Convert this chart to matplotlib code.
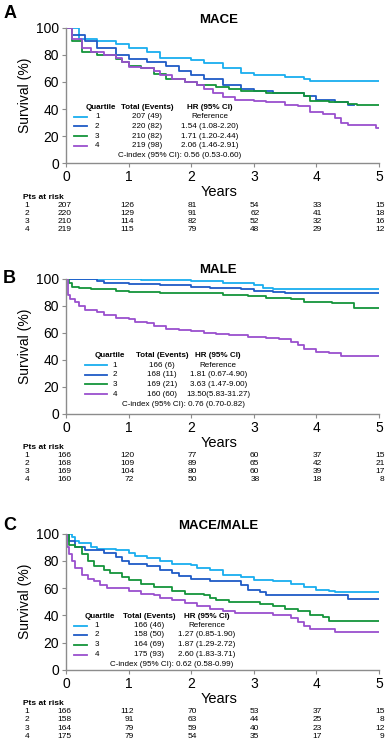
import matplotlib.pyplot as plt

plt.rcParams['font.family'] = ['Liberation Sans', 'DejaVu Sans']

colors = ['#19AEEF', '#1F5BC6', '#14943A', '#9A4FCE']
year_ticks = [0, 1, 2, 3, 4, 5]

# ---- panel A: MACE ----
mace_t1 = [0, 0.2, 0.5, 0.8, 1.0, 1.3, 1.5, 2.0, 2.2, 2.5, 2.8, 3.0, 3.5, 3.8, 3.9, 5.0]
mace_s1 = [100, 92, 90, 88, 85, 82, 78, 76, 74, 70, 67, 65, 64, 62, 60.5, 60.5]
mace_t2 = [0, 0.1, 0.3, 0.5, 0.8, 1.0, 1.3, 1.6, 1.8, 2.0, 2.2, 2.5, 2.8, 3.0, 3.3, 3.8, 4.0, 4.3, 4.5, 4.6]
mace_s2 = [100, 95, 90, 85, 80, 77, 75, 72, 68, 65, 62, 58, 55, 53, 52, 50, 47, 45, 43, 43]
mace_t3 = [0, 0.1, 0.25, 0.5, 0.8, 0.9, 1.0, 1.2, 1.4, 1.6, 1.9, 2.1, 2.4, 2.6, 2.8, 3.2, 3.8, 3.9, 4.2, 4.5, 4.65, 5.0]
mace_s3 = [100, 90, 82, 80, 77, 75, 72, 70, 66, 62, 60, 58, 56, 55, 53, 52, 50, 46, 45, 44, 43, 43]
mace_t4 = [0, 0.1, 0.25, 0.4, 0.6, 0.8, 0.9, 1.0, 1.2, 1.4, 1.5, 1.7, 1.9, 2.1, 2.2, 2.35, 2.5, 2.7,
           3.0, 3.2, 3.5, 3.7, 3.9, 4.1, 4.3, 4.4, 4.5, 4.95, 5.0]
mace_s4 = [100, 92, 85, 82, 80, 78, 75, 71, 70, 68, 65, 62, 60, 58, 55, 52, 49, 47,
           46, 45, 43, 42, 38, 36, 33, 30, 28, 26, 26]
mace_total = ['207 (49)', '220 (82)', '210 (82)', '219 (98)']
mace_hr = ['Reference', '1.54 (1.08-2.20)', '1.71 (1.20-2.44)', '2.06 (1.46-2.91)']
mace_cindex = 'C-index (95% CI): 0.56 (0.53-0.60)'
mace_risk = [[207, 126, 81, 54, 33, 15],
             [220, 129, 91, 62, 41, 18],
             [210, 114, 82, 52, 32, 16],
             [219, 115, 79, 48, 29, 12]]

# ---- panel B: MALE ----
male_t1 = [0, 1.2, 2.0, 2.5, 3.0, 3.15, 3.3, 5.0]
male_s1 = [100, 99, 98, 97, 95, 93, 92, 92]
male_t2 = [0, 0.5, 0.6, 1.0, 1.5, 2.0, 2.3, 2.8, 3.0, 3.3, 3.5, 5.0]
male_s2 = [100, 98, 97, 96, 95, 94, 93, 92, 91, 90, 89, 89]
male_t3 = [0, 0.05, 0.1, 0.2, 0.4, 0.8, 1.0, 1.5, 2.5, 2.9, 3.2, 3.6, 3.8, 4.25, 4.6, 5.0]
male_s3 = [100, 97, 94, 93, 92, 91, 90, 89, 88, 87, 86, 85, 83, 82, 78, 78]
male_t4 = [0, 0.03, 0.06, 0.15, 0.2, 0.3, 0.5, 0.6, 0.8, 1.0, 1.1, 1.3, 1.4, 1.6, 1.8, 2.0,
           2.2, 2.4, 2.6, 2.9, 3.2, 3.4, 3.6, 3.7, 3.8, 4.0, 4.2, 4.4, 5.0]
male_s4 = [100, 88, 85, 83, 80, 77, 75, 73, 71, 70, 68, 67, 65, 63, 62, 61,
           60, 59, 58, 57, 56, 55, 53, 51, 48, 46, 45, 43, 43]
male_total = ['166 (6)', '168 (11)', '169 (21)', '160 (60)']
male_hr = ['Reference', '1.81 (0.67-4.90)', '3.63 (1.47-9.00)', '13.50(5.83-31.27)']
male_cindex = 'C-index (95% CI): 0.76 (0.70-0.82)'
male_risk = [[166, 120, 77, 60, 37, 15],
             [168, 109, 89, 65, 42, 21],
             [169, 104, 80, 60, 39, 17],
             [160, 72, 50, 38, 18, 8]]

# ---- panel C: MACE/MALE ----
mm_t1 = [0, 0.1, 0.15, 0.2, 0.4, 0.5, 0.8, 1.0, 1.1, 1.3, 1.5, 1.7, 2.0, 2.1, 2.3, 2.5, 2.8,
         3.0, 3.3, 3.6, 3.8, 4.0, 4.2, 4.3, 5.0]
mm_s1 = [100, 98, 95, 93, 90, 89, 88, 86, 84, 82, 80, 78, 77, 75, 73, 70, 68,
         66, 65, 63, 61, 59, 58, 57, 57]
mm_t2 = [0, 0.05, 0.15, 0.3, 0.6, 0.8, 0.9, 1.0, 1.3, 1.5, 1.7, 1.8, 2.0, 2.3, 2.8, 2.9,
         3.1, 3.2, 4.5, 5.0]
mm_s2 = [100, 95, 90, 88, 86, 83, 80, 78, 76, 73, 71, 69, 67, 65, 62, 59,
         57, 55, 52, 52]
mm_t3 = [0, 0.05, 0.15, 0.25, 0.35, 0.45, 0.6, 0.7, 0.9, 1.0, 1.2, 1.4, 1.7, 1.9, 2.2, 2.3,
         2.4, 2.6, 3.1, 3.3, 3.5, 3.7, 3.9, 4.1, 4.2, 5.0]
mm_s3 = [100, 92, 90, 85, 80, 76, 73, 71, 68, 66, 63, 61, 58, 56, 55, 53,
         51, 50, 48, 47, 45, 43, 40, 39, 36, 36]
mm_t4 = [0, 0.02, 0.05, 0.1, 0.15, 0.25, 0.35, 0.45, 0.55, 0.65, 1.0, 1.2, 1.4, 1.5, 1.7,
         1.9, 2.1, 2.3, 2.5, 2.7, 3.3, 3.6, 3.7, 3.8, 3.9, 4.3, 5.0]
mm_s4 = [100, 90, 85, 80, 75, 70, 67, 65, 62, 60, 58, 56, 55, 53, 51,
         49, 47, 45, 43, 42, 40, 38, 35, 32, 30, 28, 28]
mm_total = ['166 (46)', '158 (50)', '164 (69)', '175 (93)']
mm_hr = ['Reference', '1.27 (0.85-1.90)', '1.87 (1.29-2.72)', '2.60 (1.83-3.71)']
mm_cindex = 'C-index (95% CI): 0.62 (0.58-0.99)'
mm_risk = [[166, 112, 70, 53, 37, 15],
           [158, 91, 63, 44, 25, 8],
           [164, 79, 59, 40, 23, 12],
           [175, 79, 54, 35, 17, 9]]

panels = [
    dict(letter='A', title='MACE', rect=[0.171, 0.784, 0.811, 0.179], lety=1.11,
         curves=[(mace_t1, mace_s1), (mace_t2, mace_s2), (mace_t3, mace_s3), (mace_t4, mace_s4)],
         total=mace_total, hr=mace_hr, cindex=mace_cindex, risk=mace_risk,
         # legend layout: line x0, x1, num x, total x, hr x, cindex x, header y, row ys, cindex y
         leg=(0.12, 0.34, 0.5, 1.29, 2.3, 1.82, 41.3, [34.4, 27.2, 20.0, 12.8], 5.7), qx=0.55),
    dict(letter='B', title='MALE', rect=[0.171, 0.452, 0.811, 0.179], lety=1.0,
         curves=[(male_t1, male_s1), (male_t2, male_s2), (male_t3, male_s3), (male_t4, male_s4)],
         total=male_total, hr=male_hr, cindex=male_cindex, risk=male_risk,
         leg=(0.30, 0.65, 0.78, 1.53, 2.43, 1.87, 43.2, [36.0, 28.9, 21.7, 14.3], 6.9), qx=0.70),
    dict(letter='C', title='MACE/MALE', rect=[0.171, 0.113, 0.811, 0.180], lety=1.06,
         curves=[(mm_t1, mm_s1), (mm_t2, mm_s2), (mm_t3, mm_s3), (mm_t4, mm_s4)],
         total=mm_total, hr=mm_hr, cindex=mm_cindex, risk=mm_risk,
         leg=(0.13, 0.33, 0.49, 1.33, 2.25, 1.69, 39.3, [32.4, 25.6, 18.2, 11.1], 3.9), qx=0.54),
]

fig = plt.figure(figsize=(3.86, 7.55), dpi=100)
spine_col = '#8c8c8c'
leg_fs = 5.8
risk_fs = 6.0

for p in panels:
    ax = fig.add_axes(p['rect'])
    for (t, s), c in zip(p['curves'], colors):
        ax.step(t, s, where='post', color=c, lw=1.3)

    ax.set_xlim(0, 5)
    ax.set_ylim(0, 100)
    ax.set_xticks(year_ticks)
    ax.set_yticks([0, 20, 40, 60, 80, 100])
    ax.tick_params(labelsize=10, color=spine_col, length=3, width=0.8, pad=2)
    for side in ['top', 'right']:
        ax.spines[side].set_visible(False)
    for side in ['left', 'bottom']:
        ax.spines[side].set_color(spine_col)
        ax.spines[side].set_linewidth(1.0)
    ax.set_ylabel('Survival (%)', fontsize=10, labelpad=3)
    ax.text(0.49, -0.215, 'Years', transform=ax.transAxes, ha='center', va='center', fontsize=10.5)
    ax.text(0.486, 1.06, p['title'], transform=ax.transAxes, ha='center', va='center',
            fontsize=9.5, fontweight='bold')
    ax.text(-0.18, p['lety'], p['letter'], transform=ax.transAxes,
            ha='center', va='center', fontsize=13, fontweight='bold')

    # in-plot legend table
    lx0, lx1, nx, tx, hx, cx, hy, rows_y, cy = p['leg']
    ax.text(p['qx'], hy, 'Quartile', ha='center', va='center', fontsize=leg_fs, fontweight='bold')
    ax.text(tx, hy, 'Total (Events)', ha='center', va='center', fontsize=leg_fs, fontweight='bold')
    ax.text(hx, hy, 'HR (95% CI)', ha='center', va='center', fontsize=leg_fs, fontweight='bold')
    for i, (c, ry) in enumerate(zip(colors, rows_y)):
        ax.plot([lx0, lx1], [ry, ry], color=c, lw=1.3)
        ax.text(nx, ry, str(i + 1), ha='center', va='center', fontsize=leg_fs)
        ax.text(tx, ry, p['total'][i], ha='center', va='center', fontsize=leg_fs)
        ax.text(hx, ry, p['hr'][i], ha='center', va='center', fontsize=leg_fs)
    ax.text(cx, cy, p['cindex'], ha='center', va='center', fontsize=leg_fs)

    # numbers at risk
    tr = ax.get_xaxis_transform()
    ax.text(-0.69, -0.252, 'Pts at risk', transform=tr, ha='left', va='center',
            fontsize=risk_fs, fontweight='bold')
    for i, (row, ry) in enumerate(zip(p['risk'], [-0.311, -0.37, -0.43, -0.489])):
        ax.text(-0.66, ry, str(i + 1), transform=tr, ha='left', va='center', fontsize=risk_fs)
        for yr, n in zip(year_ticks, row):
            ax.text(yr + 0.09, ry, str(n), transform=tr, ha='right', va='center', fontsize=risk_fs)

fig.savefig('out.png', dpi=100)
